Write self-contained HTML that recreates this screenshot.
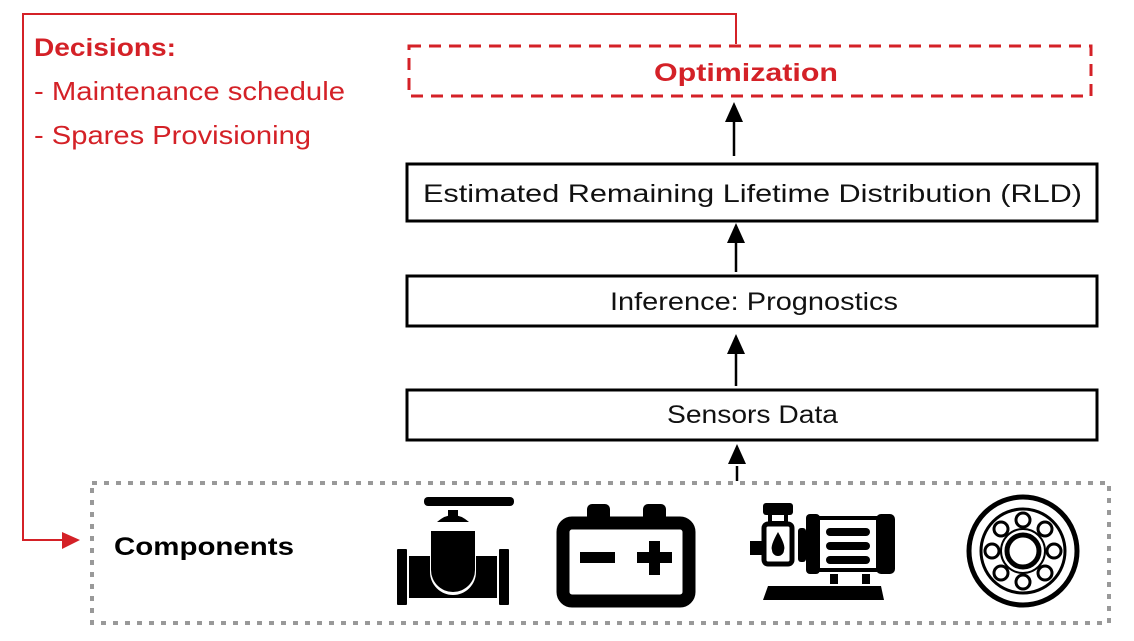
<!DOCTYPE html>
<html><head><meta charset="utf-8"><style>
html,body{margin:0;padding:0;background:#fff;}
svg{display:block;}
text{font-family:"Liberation Sans",sans-serif;}
</style></head><body>
<svg width="1134" height="641" viewBox="0 0 1134 641" xmlns="http://www.w3.org/2000/svg">
<polyline points="736,44 736,14 23,14 23,540 64,540" fill="none" stroke="#d42127" stroke-width="2"/>
<polygon points="80,540 62,532 62,549" fill="#d42127"/>
<text x="34" y="56" font-size="25" font-weight="bold" fill="#d42127" textLength="142" lengthAdjust="spacingAndGlyphs">Decisions:</text>
<text x="34" y="100" font-size="26" fill="#d42127" textLength="311" lengthAdjust="spacingAndGlyphs">- Maintenance schedule</text>
<text x="34" y="144" font-size="26" fill="#d42127" textLength="277" lengthAdjust="spacingAndGlyphs">- Spares Provisioning</text>
<rect x="409" y="46" width="682" height="50" fill="none" stroke="#d42127" stroke-width="3" stroke-dasharray="12,8"/>
<text x="654" y="81" font-size="25" font-weight="bold" fill="#d42127" textLength="184" lengthAdjust="spacingAndGlyphs">Optimization</text>
<g fill="none" stroke="#000" stroke-width="3">
<rect x="407" y="164" width="690" height="57"/>
<rect x="407" y="276" width="690" height="50"/>
<rect x="407" y="390" width="690" height="50"/>
</g>
<g font-size="25" fill="#111">
<text x="423" y="202" textLength="659" lengthAdjust="spacingAndGlyphs">Estimated Remaining Lifetime Distribution (RLD)</text>
<text x="610" y="310" textLength="288" lengthAdjust="spacingAndGlyphs">Inference: Prognostics</text>
<text x="667" y="423" textLength="171" lengthAdjust="spacingAndGlyphs">Sensors Data</text>
</g>
<g stroke="#000" stroke-width="2.5">
<line x1="734" y1="156" x2="734" y2="120"/>
<line x1="736" y1="272" x2="736" y2="240"/>
<line x1="736" y1="386" x2="736" y2="352"/>
<line x1="737" y1="481" x2="737" y2="466"/>
</g>
<g fill="#000">
<polygon points="734,102 725,122 743,122"/>
<polygon points="736,223 727,243 745,243"/>
<polygon points="736,334 727,354 745,354"/>
<polygon points="737,444 728,464 746,464"/>
</g>
<rect x="92" y="483" width="1017" height="140" fill="none" stroke="#999" stroke-width="4" stroke-dasharray="5,7"/>
<text x="114" y="555" font-size="25" font-weight="bold" fill="#000" textLength="180" lengthAdjust="spacingAndGlyphs">Components</text>
<g fill="#000">
<rect x="424" y="497" width="90" height="9" rx="4"/>
<rect x="448" y="510" width="10" height="6"/>
<path d="M437,522 Q453,508 469,522 Z"/>
<rect x="397" y="549" width="10" height="56" rx="1"/>
<rect x="499" y="549" width="10" height="56" rx="1"/>
<path d="M409,556 L430,556 L430,572 A23,23 0 0 0 476,572 L476,556 L497,556 L497,598 L409,598 Z"/>
<path d="M431,531 L475,531 L475,570 A22,22 0 0 1 431,570 Z"/>
</g>
<g>
<rect x="587" y="504" width="23" height="22" rx="5" fill="#000"/>
<rect x="643" y="504" width="23" height="22" rx="5" fill="#000"/>
<rect x="563" y="523" width="126" height="78" rx="9" fill="none" stroke="#000" stroke-width="13"/>
<rect x="580" y="552" width="35" height="11" fill="#000"/>
<rect x="637" y="552" width="35" height="11" fill="#000"/>
<rect x="649" y="541" width="11" height="34" fill="#000"/>
</g>
<g fill="#000">
<rect x="763" y="503" width="30" height="12" rx="3"/>
<rect x="770" y="513" width="16" height="10" fill="none" stroke="#000" stroke-width="4"/>
<rect x="764" y="524" width="28" height="40" rx="4" fill="none" stroke="#000" stroke-width="5"/>
<rect x="750" y="541" width="14" height="14"/>
<path d="M778,532 Q770,546 772,550 A6,6 0 0 0 784,550 Q786,546 778,532 Z"/>
<rect x="798" y="528" width="8" height="34" rx="3"/>
<rect x="806" y="514" width="14" height="60" rx="4"/>
<rect x="818" y="518" width="60" height="52" fill="none" stroke="#000" stroke-width="4"/>
<rect x="876" y="514" width="19" height="60" rx="5"/>
<rect x="826" y="528" width="44" height="8" rx="4"/>
<rect x="826" y="542" width="44" height="8" rx="4"/>
<rect x="826" y="556" width="44" height="8" rx="4"/>
<rect x="830" y="574" width="8" height="10"/>
<rect x="862" y="574" width="8" height="10"/>
<path d="M768,586 L881,586 L884,600 L763,600 Z"/>
</g>
<g fill="none" stroke="#000">
<circle cx="1023" cy="551" r="54" stroke-width="5"/>
<circle cx="1023" cy="551" r="42" stroke-width="3"/>
<circle cx="1023" cy="551" r="16" stroke-width="5"/>
<circle cx="1023" cy="551" r="22" stroke-width="2"/>
<g stroke-width="3">
<circle cx="1023" cy="520" r="7"/><circle cx="1023" cy="582" r="7"/>
<circle cx="992" cy="551" r="7"/><circle cx="1054" cy="551" r="7"/>
<circle cx="1001" cy="529" r="7"/><circle cx="1045" cy="529" r="7"/>
<circle cx="1001" cy="573" r="7"/><circle cx="1045" cy="573" r="7"/>
</g>
</g>
</svg>
</body></html>
